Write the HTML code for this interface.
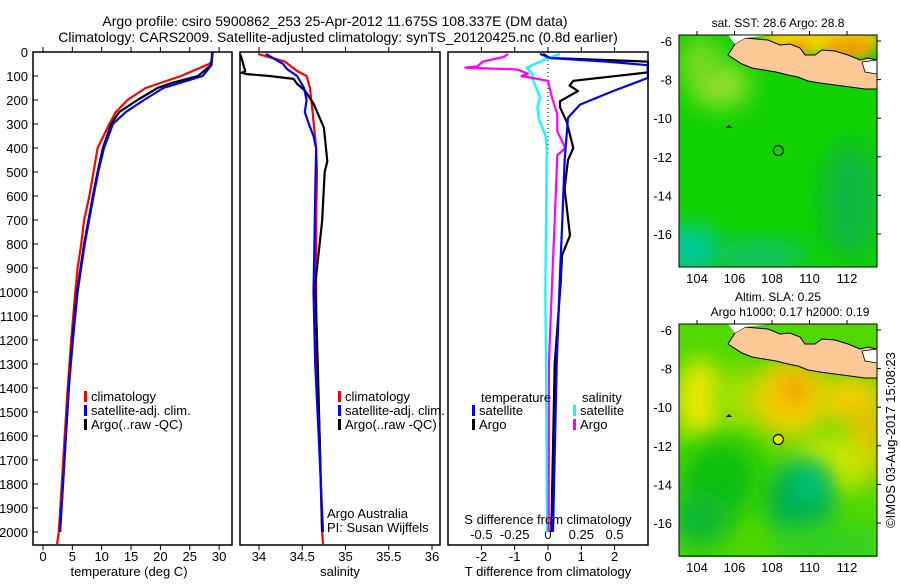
<!DOCTYPE html>
<html><head><meta charset="utf-8">
<style>
body{margin:0;background:#fff;}
svg text{font-family:"Liberation Sans",sans-serif;font-size:13px;fill:#000;}
</style></head>
<body>
<svg id="root" width="900" height="580" xmlns="http://www.w3.org/2000/svg">
<text x="335" y="26" text-anchor="middle" style="font-size:14px">Argo profile: csiro 5900862_253 25-Apr-2012 11.675S 108.337E (DM data)</text>
<text x="338" y="42" text-anchor="middle" style="font-size:14px">Climatology: CARS2009. Satellite-adjusted climatology: synTS_20120425.nc (0.8d earlier)</text>
<g id="g1"></g>
<g id="g2"></g>
<g id="g3"></g>
<g id="maps"></g>
<text transform="translate(895,440) rotate(-90)" text-anchor="middle">©IMOS 03-Aug-2017 15:08:23</text>
</svg>
<script>
// ---------- data ----------
const depthTicks=[0,100,200,300,400,500,600,700,800,900,1000,1100,1200,1300,1400,1500,1600,1700,1800,1900,2000];
const tempTicks=[0,5,10,15,20,25,30];
const salTicks=[34,34.5,35,35.5,36];
const tdiffTicks=[-2,-1,0,1,2];
const sdiffTicks=[-0.5,-0.25,0,0.25,0.5];
const sdiffLabels=["-0.5","-0.25","0","0.25","0.5"];

const tClimD=[0,40,50,100,150,200,250,300,400,500,600,700,800,900,1000,1200,1400,1600,1800,2000,2050];
const tClimV=[28.8,28.7,28.3,23.5,17.5,14.4,12.4,11.3,9.3,8.6,7.9,7.0,6.5,5.9,5.5,4.8,4.2,3.7,3.2,2.7,2.4];
const tSatD=[0,55,100,150,200,250,300,400,500,600,800,1000,1200,1400,1600,1800,2000];
const tSatV=[28.9,28.7,27.2,20.5,17.2,14.1,11.9,10.4,9.4,8.6,7.1,5.9,5.1,4.4,3.9,3.4,2.9];
const tArgoD=[0,55,100,130,150,200,250,300,400,500,600,800,1000,1200,1400,1600,1800,2000];
const tArgoV=[28.9,28.6,26.4,21.8,19.5,16.1,13.0,11.6,10.2,9.3,8.5,7.0,5.8,5.0,4.4,3.9,3.4,2.9];

const sClimD=[8,40,79,100,150,250,400,500,700,1000,1300,1600,2000,2050];
const sClimV=[33.99,34.3,34.44,34.55,34.59,34.62,34.66,34.67,34.66,34.66,34.67,34.7,34.73,34.74];
const sSatD=[8,50,70,100,150,200,250,304,350,400,600,800,1000,1300,1600,2000];
const sSatV=[34.08,34.28,34.32,34.44,34.52,34.55,34.53,34.58,34.63,34.66,34.65,34.64,34.63,34.65,34.69,34.74];
const sArgoD=[8,28,80,87,92,100,112,133,160,215,315,455,500,705,970,1300,1600,2000];
const sArgoV=[33.78,33.8,33.84,33.8,33.86,34.12,34.4,34.44,34.53,34.63,34.75,34.79,34.76,34.73,34.65,34.68,34.7,34.73];

const dtSatD=[8,25,40,55,108,163,219,274,455,733,927,1300,2000];
const dtSatV=[-0.24,0.06,1.77,3.0,3.0,1.95,0.96,0.6,0.5,0.42,0.36,0.26,0.15];
const dtArgoD=[8,25,40,85,120,140,163,205,230,290,400,450,570,764,848,960,1300,2000];
const dtArgoV=[-0.15,0.06,3.0,3.0,0.76,0.65,0.9,0.36,0.36,0.56,0.76,0.6,0.5,0.66,0.42,0.38,0.2,0.1];
const dsSatD=[8,25,65,90,120,190,230,280,345,400,700,1000,1300,2000];
const dsSatV=[0.09,0.0,-0.16,-0.12,-0.11,-0.06,-0.08,-0.07,-0.02,-0.01,-0.015,-0.02,-0.015,-0.008];
const dsArgoD=[8,20,40,60,65,73,90,100,120,190,260,330,400,430,700,970,1300,2000];
const dsArgoV=[-0.3,-0.33,-0.49,-0.53,-0.62,-0.23,-0.15,-0.2,0.0,0.03,0.07,0.07,0.13,0.07,0.05,0.03,0.007,0.005];

// ---------- helpers ----------
const NS="http://www.w3.org/2000/svg";
function mk(parent,tag,attrs,txt){const e=document.createElementNS(NS,tag);for(const k in attrs)e.setAttribute(k,attrs[k]);if(txt!==undefined)e.textContent=txt;parent.appendChild(e);return e;}
const Y0=52,YS=0.24,YB=545;
const yD=d=>Y0+d*YS;
const xT=t=>43+t*5.87;
const xS=s=>259+(s-34)*86.5;
const xDT=t=>Math.max(448,Math.min(648,548+t*33.3));
const xDS=s=>Math.max(448,Math.min(648,548+s*133.2));

function frame(g,x0,x1,name){
  const r=mk(g,'rect',{x:x0,y:Y0,width:x1-x0,height:YB-Y0,fill:'none',stroke:'#000','stroke-width':1.5});
  
  
}
function line(g,D,V,fx,color,name){
  let d='';
  for(let i=0;i<D.length;i++){d+=(i?'L':'M')+fx(V[i]).toFixed(1)+','+yD(D[i]).toFixed(1);}
  const p=mk(g,'path',{d:d,fill:'none',stroke:color,'stroke-width':2.2,'stroke-linejoin':'round'});
  
  
}
function legend(g,x,y,items){
  items.forEach((it,i)=>{
    const b=mk(g,'rect',{x:x,y:y+i*14-8,width:3,height:11,fill:it[0]});
    
    
    const t=mk(g,'text',{x:x+7,y:y+i*14+2},it[1]);
    
    
  });
}

// ---------- panel 1 ----------
const g1=document.getElementById('g1');
depthTicks.forEach(d=>{
  mk(g1,'line',{x1:33,x2:38,y1:yD(d),y2:yD(d),stroke:'#000'});
  const t=mk(g1,'text',{x:28,y:yD(d)+5,'text-anchor':'end'},String(d));
  
  
});
tempTicks.forEach(v=>{
  mk(g1,'line',{x1:xT(v),x2:xT(v),y1:YB,y2:YB+5,stroke:'#000'});
  mk(g1,'line',{x1:xT(v),x2:xT(v),y1:Y0,y2:Y0-5,stroke:'#000'});
  const t=mk(g1,'text',{x:xT(v),y:561,'text-anchor':'middle'},String(v));
  
  
});
line(g1,tClimD,tClimV,xT,'#f00','temp-climatology-line');
line(g1,tArgoD,tArgoV,xT,'#000','temp-argo-line');
line(g1,tSatD,tSatV,xT,'#00f','temp-satellite-line');
frame(g1,33,232,'temperature-plot-frame');
legend(g1,84,399,[['#f00','climatology'],['#00f','satellite-adj. clim.'],['#000','Argo(..raw -QC)']]);
{const t=mk(g1,'text',{x:129,y:576,'text-anchor':'middle'},'temperature (deg C)');}

// ---------- panel 2 ----------
const g2=document.getElementById('g2');
salTicks.forEach(v=>{
  mk(g2,'line',{x1:xS(v),x2:xS(v),y1:YB,y2:YB+5,stroke:'#000'});
  mk(g2,'line',{x1:xS(v),x2:xS(v),y1:Y0,y2:Y0-5,stroke:'#000'});
  const t=mk(g2,'text',{x:xS(v),y:561,'text-anchor':'middle'},String(v));
  
  
});
line(g2,sClimD,sClimV,xS,'#f00','sal-climatology-line');
line(g2,sArgoD,sArgoV,xS,'#000','sal-argo-line');
line(g2,sSatD,sSatV,xS,'#00f','sal-satellite-line');
frame(g2,240,440,'salinity-plot-frame');
legend(g2,338,399,[['#f00','climatology'],['#00f','satellite-adj. clim.'],['#000','Argo(..raw -QC)']]);
{const t=mk(g2,'text',{x:327,y:518},'Argo Australia');}
{const t=mk(g2,'text',{x:327,y:532},'PI: Susan Wijffels');}
{const t=mk(g2,'text',{x:340,y:576,'text-anchor':'middle'},'salinity');}

// ---------- panel 3 ----------
const g3=document.getElementById('g3');
mk(g3,'line',{x1:548,x2:548,y1:Y0,y2:yD(420),stroke:'#000','stroke-dasharray':'1,3'});
sdiffTicks.forEach((v,i)=>{
  mk(g3,'line',{x1:xDS(v),x2:xDS(v),y1:Y0,y2:Y0-5,stroke:'#000'});
  const t=mk(g3,'text',{x:xDS(v),y:539,'text-anchor':'middle'},sdiffLabels[i]);
  
  
});
tdiffTicks.forEach(v=>{
  mk(g3,'line',{x1:xDT(v),x2:xDT(v),y1:YB,y2:YB+5,stroke:'#000'});
  const t=mk(g3,'text',{x:xDT(v),y:561,'text-anchor':'middle'},String(v));
  
  
});
line(g3,dsSatD,dsSatV,xDS,'#0ff','s-diff-satellite-line');
line(g3,dsArgoD,dsArgoV,xDS,'#f0f','s-diff-argo-line');
line(g3,dtArgoD,dtArgoV,xDT,'#000','t-diff-argo-line');
line(g3,dtSatD,dtSatV,xDT,'#00f','t-diff-satellite-line');
frame(g3,448,648,'difference-plot-frame');
{const t=mk(g3,'text',{x:481,y:402},'temperature');}
{const t=mk(g3,'text',{x:582,y:402},'salinity');}
legend(g3,472,413,[['#00f','satellite'],['#000','Argo']]);
legend(g3,573,413,[['#0ff','satellite'],['#f0f','Argo']]);
{const t=mk(g3,'text',{x:548,y:524,'text-anchor':'middle'},'S difference from climatology');}
{const t=mk(g3,'text',{x:548,y:576,'text-anchor':'middle'},'T difference from climatology');}

// ---------- maps ----------
const maps=document.getElementById('maps');
const defs=mk(maps,'defs',{});
const f=mk(defs,'filter',{id:'blur',x:'-50%',y:'-50%',width:'200%',height:'200%'});mk(f,'feGaussianBlur',{stdDeviation:12});
const f2=mk(defs,'filter',{id:'blur2',x:'-50%',y:'-50%',width:'200%',height:'200%'});mk(f2,'feGaussianBlur',{stdDeviation:5});
const cp1=mk(defs,'clipPath',{id:'c1'});mk(cp1,'rect',{x:679,y:35,width:198,height:232});
const cp2=mk(defs,'clipPath',{id:'c2'});mk(cp2,'rect',{x:679,y:324,width:198,height:233});
const lonTicks=[104,106,108,110,112];
const latTicks=[-6,-8,-10,-12,-14,-16];
const xLon=l=>697+(l-104)*18.75;
const yLat=(l,off)=>41+off+(-6-l)*19.3;
const java="M728,55 L735,44 L745,38 L768,40 L780,45 L790,44 L800,48 L805,55 L815,55 L822,50 L835,51 L848,55 L860,60 L868,58 L877,60 L877,89 L865,89 L850,87 L835,85 L820,83 L808,81 L798,77 L788,75 L776,72 L764,70 L752,68 L742,64 Z";
function map(off,clip,blobs,bg,name,title){
  const g=mk(maps,'g',{'clip-path':'url(#'+clip+')'});
  
  
  mk(g,'rect',{x:679,y:35+off,width:198,height:233,fill:bg});
  blobs.forEach(b=>mk(g,'ellipse',{cx:b[0],cy:b[1]+off,rx:b[2],ry:b[3],fill:b[4],filter:'url(#'+(b[5]||'blur')+')'}));
  const j=mk(g,'path',{d:java,transform:'translate(0,'+off+')',fill:'#fcc896',stroke:'#000','stroke-width':1});
  
  
  mk(g,'path',{d:'M728,35 L770,35 L745,38 L735,44 Z',transform:'translate(0,'+off+')',fill:'#fff'});
  mk(g,'path',{d:'M862,62 L877,60 L877,74 L865,72 Z',transform:'translate(0,'+off+')',fill:'#fff',stroke:'#000','stroke-width':0.8});
  const c=mk(g,'circle',{cx:xLon(108.337),cy:yLat(-11.675,off),r:5,fill:off?'#e0f000':'none',stroke:'#000','stroke-width':1.2});
  
  
  mk(g,'path',{d:'M726,'+(128+off)+' l3,-3 l3,3 z',fill:'#000'});
  const fr=mk(maps,'rect',{x:679,y:35+off,width:198,height:232,fill:'none',stroke:'#000'});
  
  
  lonTicks.forEach(l=>{
    mk(maps,'line',{x1:xLon(l),x2:xLon(l),y1:35+off,y2:31+off,stroke:'#000'});
    const t=mk(maps,'text',{x:xLon(l),y:283+off,'text-anchor':'middle'},String(l));
    
    
  });
  latTicks.forEach(l=>{
    mk(maps,'line',{x1:877,x2:881,y1:yLat(l,off),y2:yLat(l,off),stroke:'#000'});
    const t=mk(maps,'text',{x:672,y:yLat(l,off)+5,'text-anchor':'end'},String(l));
    
    
  });
  title.forEach((s,i)=>{
    const t=mk(maps,'text',{x:778+(title.length>1&&i==1?12:0),y:off+27-(title.length-1-i)*15,'text-anchor':'middle','style':'font-size:12px'},s);
    
    
  });
}
map(0,'c1',[
  [820,40,60,14,'#f0d000','blur2'],[850,48,25,10,'#f0a000','blur2'],[800,48,10,5,'#e89000','blur2'],
  [720,85,30,22,'#9ae030'],[690,250,30,25,'#00c8a0'],[760,255,50,15,'#10c070'],
  [850,200,30,60,'#10b840'],[700,60,20,25,'#7ad820']
],'#12d200','sst-map',['sat. SST: 28.6  Argo: 28.8']);
map(289,'c2',[
  [700,110,25,40,'#e8e800'],[740,110,25,30,'#a0e000'],[790,110,40,40,'#f0d000'],[796,100,15,15,'#f09800'],
  [850,110,35,25,'#f0d000'],[865,150,18,40,'#f0c000'],[830,175,40,30,'#c8e800'],
  [800,210,35,40,'#00b050'],[810,195,14,20,'#00c880'],[720,190,40,40,'#10c010'],
  [830,255,60,20,'#30d020'],[700,230,30,30,'#10b830']
],'#50d800','sla-map',['Altim. SLA: 0.25','Argo h1000: 0.17 h2000: 0.19']);
</script>
</body></html>
